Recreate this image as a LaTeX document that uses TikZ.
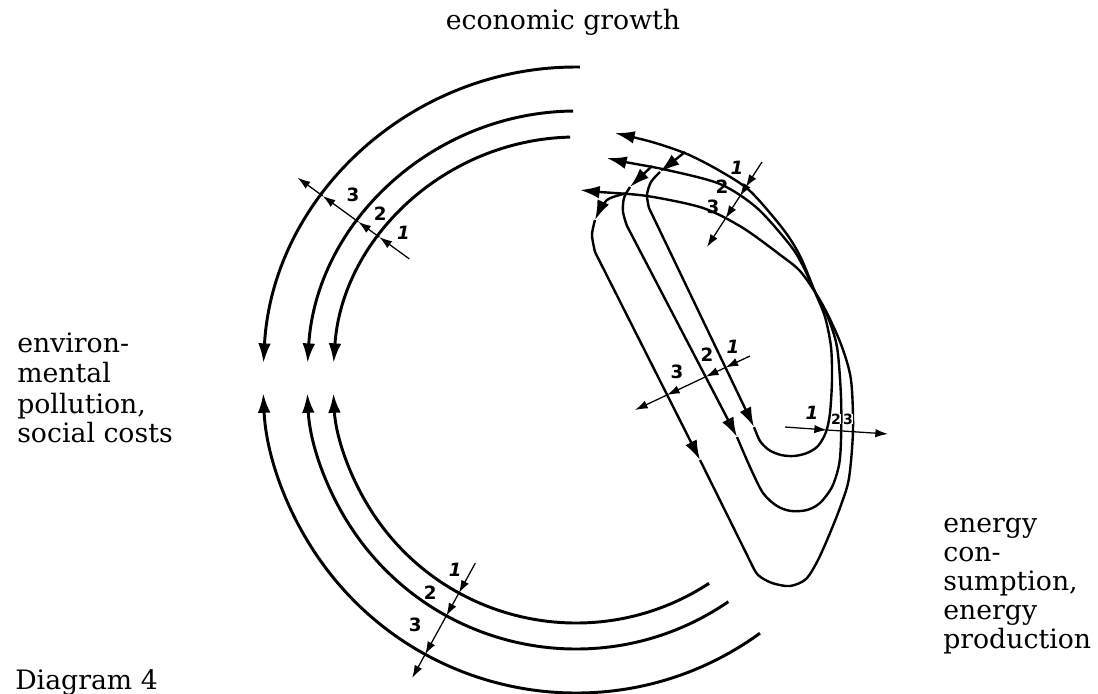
\documentclass[tikz,border=0pt]{standalone}
\usepackage{fontspec}
\setmainfont{DejaVu Serif}
\setsansfont{DejaVu Sans}
\usetikzlibrary{arrows.meta}
\newcommand\bigtext{\fontsize{19}{21}\selectfont}
\newcommand\numtext{\sffamily\bfseries\fontsize{13}{13}\selectfont}
\tikzset{
  ring/.style={line width=2.1pt},
  loopline/.style={line width=1.7pt},
  cut/.style={line width=0.9pt},
  bigtip/.style={-{Latex[length=14pt,width=9pt]}},
  smalltip/.style={-{Latex[length=9pt,width=6pt]}},
  num/.style={font=\numtext, inner sep=0pt},
  word/.style={font=\bigtext, inner sep=0pt, anchor=base west},
}
\begin{document}
\begin{tikzpicture}[x=0.025cm, y=-0.025cm]
	\useasboundingbox (0,0) rectangle (1098,694);
	% texts
	\node[word, anchor=base] (growth) at (563,30) {economic growth};
	\node[word] (pol1) at (17,353) {environ-};
	\node[word] (pol2) at (17,383) {mental};
	\node[word] (pol3) at (17,413) {pollution,};
	\node[word] (pol4) at (17,442) {social costs};
	\node[word] (en1) at (943,532) {energy};
	\node[word] (en2) at (943,561) {con-};
	\node[word] (en3) at (943,590) {sumption,};
	\node[word] (en4) at (943,619) {energy};
	\node[word] (en5) at (943,648) {production};
	\node[word] (diag) at (15,689) {Diagram 4};
	% the three rings
	\begin{scope}[shift={(576,380)}]
		\draw[ring, bigtip] (-89.3:313) arc[start angle=-89.3, end angle=-176.9, radius=313];
		\draw[ring, bigtip] (-90.6:269) arc[start angle=-90.6, end angle=-176.4, radius=269];
		\draw[ring, bigtip] (-91.4:243) arc[start angle=-91.4, end angle=-176.0, radius=243];
		\draw[ring, bigtip] (54:313) arc[start angle=54, end angle=177.6, radius=313];
		\draw[ring, bigtip] (55.5:269) arc[start angle=55.5, end angle=177.2, radius=269];
		\draw[ring, bigtip] (56.8:243) arc[start angle=56.8, end angle=176.9, radius=243];
		% cuts through the rings
		\foreach \ri/\ro in {206/243,243/269,269/313,313/344}
			\draw[cut, smalltip] (-144:\ri) -- (-144:\ro);
		\foreach \ri/\ro in {209/243,243/269,269/313,313/340}
			\draw[cut, smalltip] (118.8:\ri) -- (118.8:\ro);
		\node[num] (u1) at (-139.5:227) {\itshape 1};
		\node[num] (u2) at (-139.6:257) {2};
		\node[num] (u3) at (-140.3:290) {3};
		\node[num] (d1) at (122.5:225) {\itshape 1};
		\node[num] (d2) at (124.4:258) {2};
		\node[num] (d3) at (123.3:293) {3};
	\end{scope}
	% loop 1
	\draw[loopline, bigtip] (685,152) -- (660,172);
	\draw[loopline, bigtip] plot[smooth] coordinates {(660,172) (651,182) (647,195) (649,208)} -- (754,427);
	\draw[loopline, bigtip] plot[smooth] coordinates {(754,427) (760,441) (769,450) (781,455) (794,456) (807,453) (818,446) (826,432) (830,413) (832,380) (831,347) (825,317) (815,292) (800,256) (783,229) (750,191) (720,171) (687,154) (652,142) (615,133)};
	% loop 2
	\draw[loopline, bigtip] (652,166) -- (630,187);
	\draw[loopline, bigtip] plot[smooth] coordinates {(630,187) (624,198) (623,212) (627,226)} -- (737,437);
	\draw[loopline, bigtip] plot[smooth] coordinates {(737,437) (750,467) (763,493) (777,506) (791,511) (807,510) (820,503) (832,487) (839,465) (841,440) (841,397) (837,347) (827,315) (815,292) (803,266) (790,245) (757,208) (720,184) (667,170) (625,162) (607,158)};
	% loop 3
	\draw[loopline, bigtip] plot[smooth] coordinates {(628,193) (607,200) (595,220)};
	\draw[loopline, bigtip] plot[smooth] coordinates {(595,220) (592,235) (595,252)} -- (700,460);
	\draw[loopline, bigtip] (700,460) -- plot[smooth] coordinates {(751,563) (758,575) (772,583) (790,586) (806,579) (818,560) (830,533) (841,505) (849,478) (853,430) (851,380) (842,347) (828,315) (815,292) (800,271) (783,257) (743,228) (703,208) (647,196) (600,192) (580,190)};
	% cuts through the loops
	\draw[cut, smalltip] (762,162) -- (745.7,187.2);
	\draw[cut, smalltip] (745.7,187.2) -- (740,196);
	\draw[cut, smalltip] (740,196) -- (725.6,218.3);
	\draw[cut, smalltip] (725.6,218.3) -- (707,247);
	\node[num] (t1) at (737,168) {\itshape 1};
	\node[num] (t2) at (722,187) {2};
	\node[num] (t3) at (713,207) {3};
	\draw[cut, smalltip] (750,356) -- (725.5,367.5);
	\draw[cut, smalltip] (725.5,367.5) -- (705.8,376.7);
	\draw[cut, smalltip] (705.8,376.7) -- (667,395);
	\draw[cut, smalltip] (667,395) -- (635,410);
	\node[num] (m1) at (733,347) {\itshape 1};
	\node[num] (m2) at (707,355) {2};
	\node[num] (m3) at (677,372) {3};
	\draw[cut, smalltip] (785,427) -- (827,430);
	\draw[cut, smalltip] (827,430) -- (888,434);
	\node[num] (r1) at (812,413) {\itshape 1};
	\node[num, fill=white, font=\numtext\fontsize{10}{10}\selectfont] (r2) at (836,419) {2};
	\node[num, fill=white, font=\numtext\fontsize{10}{10}\selectfont] (r3) at (848,419) {3};
\end{tikzpicture}
\end{document}
